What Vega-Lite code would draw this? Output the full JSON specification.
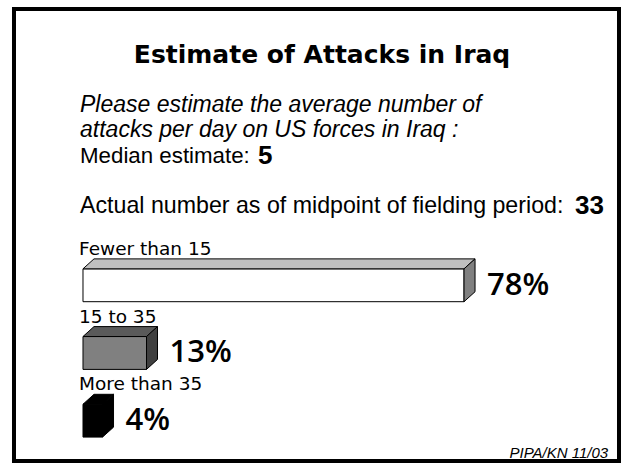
{
  "$schema": "https://vega.github.io/schema/vega-lite/v6.json",
  "width": 621,
  "height": 464,
  "autosize": {"type": "fit", "contains": "padding"},
  "padding": 0,
  "background": "white",
  "config": {"view": {"stroke": null}},
  "datasets": {
    "bars": [
      {"category": "Fewer than 15", "percent": 78},
      {"category": "15 to 35", "percent": 13},
      {"category": "More than 35", "percent": 4}
    ],
    "notes": [
      {"key": "title", "text": "Estimate of Attacks in Iraq"},
      {"key": "q1", "text": "Please estimate the average number of"},
      {"key": "q2", "text": "attacks per day on US forces in Iraq :"},
      {"key": "median_label", "text": "Median estimate:"},
      {"key": "median_value", "text": "5"},
      {"key": "actual_label", "text": "Actual number as of midpoint of fielding period:"},
      {"key": "actual_value", "text": "33"},
      {"key": "source", "text": "PIPA/KN 11/03"},
      {"key": "frame", "text": ""}
    ]
  },
  "layer": [
    {
      "data": {"name": "notes"},
      "transform": [{"filter": "datum.key == 'frame'"}],
      "mark": {"type": "rect", "fill": "white", "fillOpacity": 0, "stroke": "black", "strokeWidth": 4},
      "encoding": {
        "x": {"datum": -14.125, "type": "quantitative", "scale": {"domain": [-16.99, 110.13], "nice": false, "zero": false}, "axis": null},
        "x2": {"datum": 109.72},
        "y": {"datum": -4.081, "type": "quantitative", "scale": {"domain": [-4.2132, 2.6103], "reverse": true, "nice": false, "zero": false}, "axis": null},
        "y2": {"datum": 2.596}
      }
    },
    {
      "data": {"name": "bars"},
      "transform": [
        {"window": [{"op": "row_number", "as": "rn"}]},
        {"calculate": "datum.rn - 1", "as": "row"},
        {"calculate": "datum.row - 0.2426", "as": "yTop"},
        {"calculate": "datum.row + 0.2426", "as": "yBot"},
        {"calculate": "0", "as": "base"}
      ],
      "layer": [
        {
          "mark": {"type": "rect", "stroke": "black", "strokeWidth": 1},
          "encoding": {
            "x": {"field": "base", "type": "quantitative", "scale": {"domain": [-16.99, 110.13], "nice": false, "zero": false}, "axis": null},
            "x2": {"field": "percent"},
            "y": {"field": "yTop", "type": "quantitative", "scale": {"domain": [-4.2132, 2.6103], "reverse": true, "nice": false, "zero": false}, "axis": null},
            "y2": {"field": "yBot"},
            "fill": {"condition": [{"test": "datum.category == 'Fewer than 15'", "value": "#ffffff"}, {"test": "datum.category == '15 to 35'", "value": "#808080"}], "value": "#000000"}
          }
        },
        {
          "transform": [
            {"calculate": "[0, 1]", "as": "t"},
            {"flatten": ["t"]},
            {"calculate": "datum.yTop - datum.t * 0.147", "as": "ty"},
            {"calculate": "datum.t * 2.25", "as": "tx"},
            {"calculate": "datum.percent + datum.t * 2.25", "as": "tx2"}
          ],
          "mark": {"type": "area", "orient": "horizontal", "stroke": "black", "strokeWidth": 1, "interpolate": "linear"},
          "encoding": {
            "y": {"field": "ty", "type": "quantitative", "scale": {"domain": [-4.2132, 2.6103], "reverse": true, "nice": false, "zero": false}, "axis": null},
            "x": {"field": "tx", "type": "quantitative", "scale": {"domain": [-16.99, 110.13], "nice": false, "zero": false}, "axis": null},
            "x2": {"field": "tx2"},
            "detail": {"field": "category", "type": "nominal"},
            "fill": {"condition": [{"test": "datum.category == 'Fewer than 15'", "value": "#c0c0c0"}, {"test": "datum.category == '15 to 35'", "value": "#5a5a5a"}], "value": "#000000"}
          }
        },
        {
          "transform": [
            {"calculate": "[0, 1]", "as": "t"},
            {"flatten": ["t"]},
            {"calculate": "datum.percent + datum.t * 2.25", "as": "sx"},
            {"calculate": "datum.yTop - datum.t * 0.147", "as": "sy"},
            {"calculate": "datum.yBot - datum.t * 0.147", "as": "sy2"}
          ],
          "mark": {"type": "area", "orient": "vertical", "stroke": "black", "strokeWidth": 1, "interpolate": "linear"},
          "encoding": {
            "x": {"field": "sx", "type": "quantitative", "scale": {"domain": [-16.99, 110.13], "nice": false, "zero": false}, "axis": null},
            "y": {"field": "sy", "type": "quantitative", "scale": {"domain": [-4.2132, 2.6103], "reverse": true, "nice": false, "zero": false}, "axis": null},
            "y2": {"field": "sy2"},
            "detail": {"field": "category", "type": "nominal"},
            "fill": {"condition": [{"test": "datum.category == 'Fewer than 15'", "value": "#808080"}, {"test": "datum.category == '15 to 35'", "value": "#404040"}], "value": "#000000"}
          }
        },
        {
          "transform": [{"calculate": "datum.row - 0.449", "as": "ly"}],
          "mark": {"type": "text", "font": "DejaVu Sans", "fontSize": 18.5, "align": "left", "baseline": "alphabetic", "dx": -4, "color": "black"},
          "encoding": {
            "x": {"field": "base", "type": "quantitative", "scale": {"domain": [-16.99, 110.13], "nice": false, "zero": false}, "axis": null},
            "y": {"field": "ly", "type": "quantitative", "scale": {"domain": [-4.2132, 2.6103], "reverse": true, "nice": false, "zero": false}, "axis": null},
            "text": {"field": "category"}
          }
        },
        {
          "transform": [
            {"calculate": "datum.row + 0.14", "as": "py"},
            {"calculate": "datum.percent + 2.25", "as": "px"},
            {"calculate": "datum.percent + '%'", "as": "plabel"}
          ],
          "mark": {"type": "text", "font": "Open Sans", "fontSize": 31, "fontWeight": 600, "align": "left", "baseline": "alphabetic", "dx": 12, "color": "black"},
          "encoding": {
            "x": {"field": "px", "type": "quantitative", "scale": {"domain": [-16.99, 110.13], "nice": false, "zero": false}, "axis": null},
            "y": {"field": "py", "type": "quantitative", "scale": {"domain": [-4.2132, 2.6103], "reverse": true, "nice": false, "zero": false}, "axis": null},
            "text": {"field": "plabel"}
          }
        }
      ]
    },
    {
      "data": {"name": "notes"},
      "transform": [{"filter": "datum.key == 'title'"}],
      "mark": {"type": "text", "font": "DejaVu Sans", "fontSize": 25, "fontWeight": "bold", "align": "center", "baseline": "alphabetic", "color": "black"},
      "encoding": {
        "x": {"datum": 48.93, "type": "quantitative", "scale": {"domain": [-16.99, 110.13], "nice": false, "zero": false}, "axis": null},
        "y": {"datum": -3.287, "type": "quantitative", "scale": {"domain": [-4.2132, 2.6103], "reverse": true, "nice": false, "zero": false}, "axis": null},
        "text": {"field": "text"}
      }
    },
    {
      "data": {"name": "notes"},
      "transform": [{"filter": "datum.key == 'q1'"}],
      "mark": {"type": "text", "font": "Liberation Sans", "fontSize": 23, "fontStyle": "italic", "align": "left", "baseline": "alphabetic", "color": "black"},
      "encoding": {
        "x": {"datum": -0.61, "type": "quantitative", "scale": {"domain": [-16.99, 110.13], "nice": false, "zero": false}, "axis": null},
        "y": {"datum": -2.566, "type": "quantitative", "scale": {"domain": [-4.2132, 2.6103], "reverse": true, "nice": false, "zero": false}, "axis": null},
        "text": {"field": "text"}
      }
    },
    {
      "data": {"name": "notes"},
      "transform": [{"filter": "datum.key == 'q2'"}],
      "mark": {"type": "text", "font": "Liberation Sans", "fontSize": 23, "fontStyle": "italic", "align": "left", "baseline": "alphabetic", "color": "black"},
      "encoding": {
        "x": {"datum": -0.61, "type": "quantitative", "scale": {"domain": [-16.99, 110.13], "nice": false, "zero": false}, "axis": null},
        "y": {"datum": -2.184, "type": "quantitative", "scale": {"domain": [-4.2132, 2.6103], "reverse": true, "nice": false, "zero": false}, "axis": null},
        "text": {"field": "text"}
      }
    },
    {
      "data": {"name": "notes"},
      "transform": [{"filter": "datum.key == 'median_label'"}],
      "mark": {"type": "text", "font": "Liberation Sans", "fontSize": 22.3, "align": "left", "baseline": "alphabetic", "color": "black"},
      "encoding": {
        "x": {"datum": -0.61, "type": "quantitative", "scale": {"domain": [-16.99, 110.13], "nice": false, "zero": false}, "axis": null},
        "y": {"datum": -1.801, "type": "quantitative", "scale": {"domain": [-4.2132, 2.6103], "reverse": true, "nice": false, "zero": false}, "axis": null},
        "text": {"field": "text"}
      }
    },
    {
      "data": {"name": "notes"},
      "transform": [{"filter": "datum.key == 'median_value'"}],
      "mark": {"type": "text", "font": "Liberation Sans", "fontSize": 26, "fontWeight": "bold", "align": "left", "baseline": "alphabetic", "color": "black"},
      "encoding": {
        "x": {"datum": 35.82, "type": "quantitative", "scale": {"domain": [-16.99, 110.13], "nice": false, "zero": false}, "axis": null},
        "y": {"datum": -1.787, "type": "quantitative", "scale": {"domain": [-4.2132, 2.6103], "reverse": true, "nice": false, "zero": false}, "axis": null},
        "text": {"field": "text"}
      }
    },
    {
      "data": {"name": "notes"},
      "transform": [{"filter": "datum.key == 'actual_label'"}],
      "mark": {"type": "text", "font": "Liberation Sans", "fontSize": 23.2, "align": "left", "baseline": "alphabetic", "color": "black"},
      "encoding": {
        "x": {"datum": -0.61, "type": "quantitative", "scale": {"domain": [-16.99, 110.13], "nice": false, "zero": false}, "axis": null},
        "y": {"datum": -1.066, "type": "quantitative", "scale": {"domain": [-4.2132, 2.6103], "reverse": true, "nice": false, "zero": false}, "axis": null},
        "text": {"field": "text"}
      }
    },
    {
      "data": {"name": "notes"},
      "transform": [{"filter": "datum.key == 'actual_value'"}],
      "mark": {"type": "text", "font": "Liberation Sans", "fontSize": 26, "fontWeight": "bold", "align": "left", "baseline": "alphabetic", "color": "black"},
      "encoding": {
        "x": {"datum": 100.72, "type": "quantitative", "scale": {"domain": [-16.99, 110.13], "nice": false, "zero": false}, "axis": null},
        "y": {"datum": -1.051, "type": "quantitative", "scale": {"domain": [-4.2132, 2.6103], "reverse": true, "nice": false, "zero": false}, "axis": null},
        "text": {"field": "text"}
      }
    },
    {
      "data": {"name": "notes"},
      "transform": [{"filter": "datum.key == 'source'"}],
      "mark": {"type": "text", "font": "Liberation Sans", "fontSize": 15, "fontStyle": "italic", "align": "right", "baseline": "alphabetic", "color": "black"},
      "encoding": {
        "x": {"datum": 107.5, "type": "quantitative", "scale": {"domain": [-16.99, 110.13], "nice": false, "zero": false}, "axis": null},
        "y": {"datum": 2.551, "type": "quantitative", "scale": {"domain": [-4.2132, 2.6103], "reverse": true, "nice": false, "zero": false}, "axis": null},
        "text": {"field": "text"}
      }
    }
  ]
}
